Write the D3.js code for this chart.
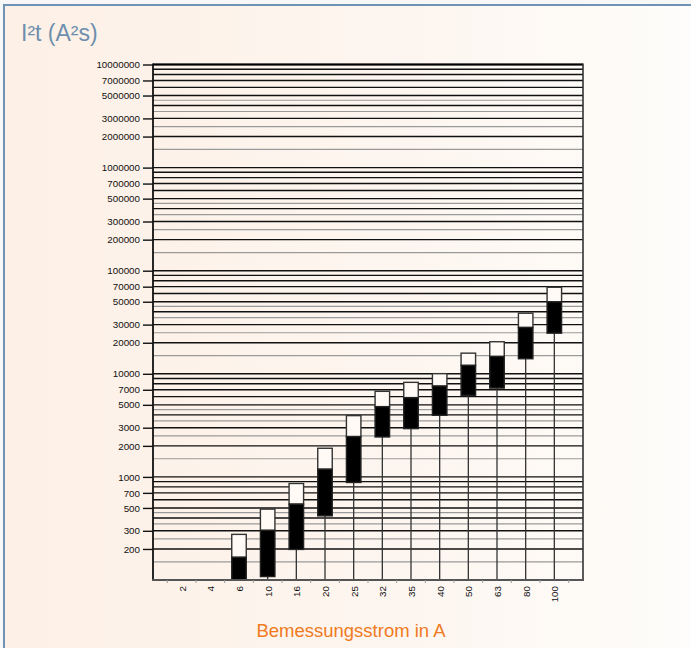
<!DOCTYPE html>
<html>
<head>
<meta charset="utf-8">
<script src="https://cdn.jsdelivr.net/npm/d3@7/dist/d3.min.js"></script>
<style>
html,body{margin:0;padding:0;background:#f8f8f8;}
svg{display:block;}
</style>
</head>
<body>
<div id="chart"></div>
<script>
// ---- data ----
const categories = ["2","4","6","10","16","20","25","32","35","40","50","63","80","100"];
const maxValues  = [null,null,277,487,863,1896,3930,6760,8260,10030,15860,20460,38700,69100];
const midValues  = [null,null,166,303,544,1187,2461,4800,5870,7600,12060,14730,28130,49900];
const minValues  = [null,null,90,108,198,419,883,2440,2940,3960,6180,7270,14000,24780];
const yTickLabels = [10000000,7000000,5000000,3000000,2000000,1000000,700000,500000,300000,200000,
                     100000,70000,50000,30000,20000,10000,7000,5000,3000,2000,1000,700,500,300,200];
const gridMajor = [1,2,3,4,5,6,7,8,9];
const gridMinor = [1.5,2.5,3.5,4.5];
const decades = [100,1000,10000,100000,1000000];

(function(){
const W = 691, H = 648;
const svg = d3.select("#chart").append("svg").attr("width", W).attr("height", H);

const defs = svg.append("defs");
const grad = defs.append("linearGradient").attr("id","bg").attr("x1","0").attr("x2","1").attr("y1","0").attr("y2","0");
grad.append("stop").attr("offset","0").attr("stop-color","#fdf0e6");
grad.append("stop").attr("offset","0.6").attr("stop-color","#fdf6f0");
grad.append("stop").attr("offset","1").attr("stop-color","#fefdfb");

svg.append("rect").attr("x",0).attr("y",0).attr("width",W).attr("height",H).attr("fill","#f7f7f7");
svg.append("rect").attr("x",4).attr("y",5).attr("width",W-4).attr("height",H-5).attr("fill","url(#bg)");
svg.append("line").attr("x1",4).attr("x2",4).attr("y1",4).attr("y2",H).attr("stroke","#6f93b4").attr("stroke-width",2);
svg.append("line").attr("x1",3).attr("x2",W).attr("y1",5).attr("y2",5).attr("stroke","#6f93b4").attr("stroke-width",2);

// title
svg.append("text").attr("x",21).attr("y",41)
  .attr("font-family","Liberation Sans, Arial, sans-serif").attr("font-size",23)
  .attr("fill","#6e8fae").text("I²t (A²s)");

const pLeft = 153, pRight = 583, pTop = 64.5, pBottom = 580;

const y = d3.scaleLog().domain([100, 1e7]).range([pBottom, pTop]);
const x = d3.scalePoint().domain(["", ...categories, " "]).range([pLeft, pRight]);

// grid lines
const g = svg.append("g");
const gridVals = [];
decades.forEach(d => {
  gridMajor.forEach(m => gridVals.push({v: d*m, major: true}));
  gridMinor.forEach(m => gridVals.push({v: d*m, major: false}));
});
gridVals.push({v: 1e7, major: true});
g.selectAll("line.grid").data(gridVals.filter(d => d.v > 100)).join("line")
  .attr("x1", pLeft).attr("x2", pRight)
  .attr("y1", d => y(d.v)).attr("y2", d => y(d.v))
  .attr("stroke", d => d.major ? "#111" : "#9a9a9a")
  .attr("stroke-width", d => d.major ? 1.4 : 1.2);

svg.append("line").attr("x1",pLeft).attr("x2",pRight).attr("y1",y(1e7)).attr("y2",y(1e7))
  .attr("stroke","#000").attr("stroke-width",2.2);

// vertical stems
const data = categories.map((c,i) => ({c, max: maxValues[i], mid: midValues[i], min: minValues[i]}))
  .filter(d => d.max != null);
svg.selectAll("line.stem").data(data).join("line")
  .attr("x1", d => x(d.c)).attr("x2", d => x(d.c))
  .attr("y1", d => y(Math.max(d.min,100))).attr("y2", pBottom)
  .attr("stroke", "#333").attr("stroke-width", 1.3);

// bars
const bw = 14.5;
const bars = svg.append("g");
bars.selectAll("rect.upper").data(data).join("rect")
  .attr("x", d => x(d.c) - bw/2).attr("width", bw)
  .attr("y", d => y(d.max)).attr("height", d => y(d.mid) - y(d.max))
  .attr("fill", "#fffaf5").attr("stroke", "#333").attr("stroke-width", 1.4);
bars.selectAll("rect.lower").data(data).join("rect")
  .attr("x", d => x(d.c) - bw/2).attr("width", bw)
  .attr("y", d => y(d.mid)).attr("height", d => y(Math.max(d.min,100)) - y(d.mid))
  .attr("fill", "#000").attr("stroke", "#222").attr("stroke-width", 1.4);

// y axis
const yAxis = d3.axisLeft(y).tickValues(yTickLabels).tickFormat(d3.format("d")).tickSize(10).tickPadding(3);
const ya = svg.append("g").attr("transform", `translate(${pLeft},0)`).call(yAxis);
ya.select(".domain").remove();
ya.selectAll(".tick line").attr("stroke","#111").attr("stroke-width",1.4);
ya.selectAll(".tick text").attr("font-family","Liberation Sans, Arial, sans-serif").attr("font-size",9.8).attr("fill","#111");
svg.append("line").attr("x1",pLeft).attr("x2",pLeft).attr("y1",pTop-1).attr("y2",pBottom+1).attr("stroke","#111").attr("stroke-width",1.8);
svg.append("line").attr("x1",pRight).attr("x2",pRight).attr("y1",pTop-1).attr("y2",pBottom+1).attr("stroke","#333").attr("stroke-width",1.6);

// x axis
const xa = svg.append("g").attr("transform", `translate(0,${pBottom})`)
  .call(d3.axisBottom(x).tickValues(categories).tickSize(0).tickPadding(6));
xa.select(".domain").remove();
xa.selectAll(".tick text")
  .attr("font-family","Liberation Sans, Arial, sans-serif").attr("font-size",9.8).attr("fill","#111")
  .attr("transform","rotate(-90)").attr("text-anchor","end").attr("dy","0.35em").attr("x",-6).attr("y",0);
svg.append("line").attr("x1",pLeft-1).attr("x2",pRight+1).attr("y1",pBottom).attr("y2",pBottom).attr("stroke","#555").attr("stroke-width",2);
const step = x.step();
const mids = x.domain().slice(0,-1).map(c => x(c) + step/2);
svg.selectAll("line.mt").data(mids).join("line")
  .attr("x1", d => d).attr("x2", d => d).attr("y1", pBottom).attr("y2", pBottom+3)
  .attr("stroke","#999").attr("stroke-width",1);

// x title
svg.append("text").attr("x",351).attr("y",637).attr("text-anchor","middle")
  .attr("font-family","Liberation Sans, Arial, sans-serif").attr("font-size",18.5)
  .attr("fill","#f07a22").text("Bemessungsstrom in A");
})();
</script>
</body>
</html>
